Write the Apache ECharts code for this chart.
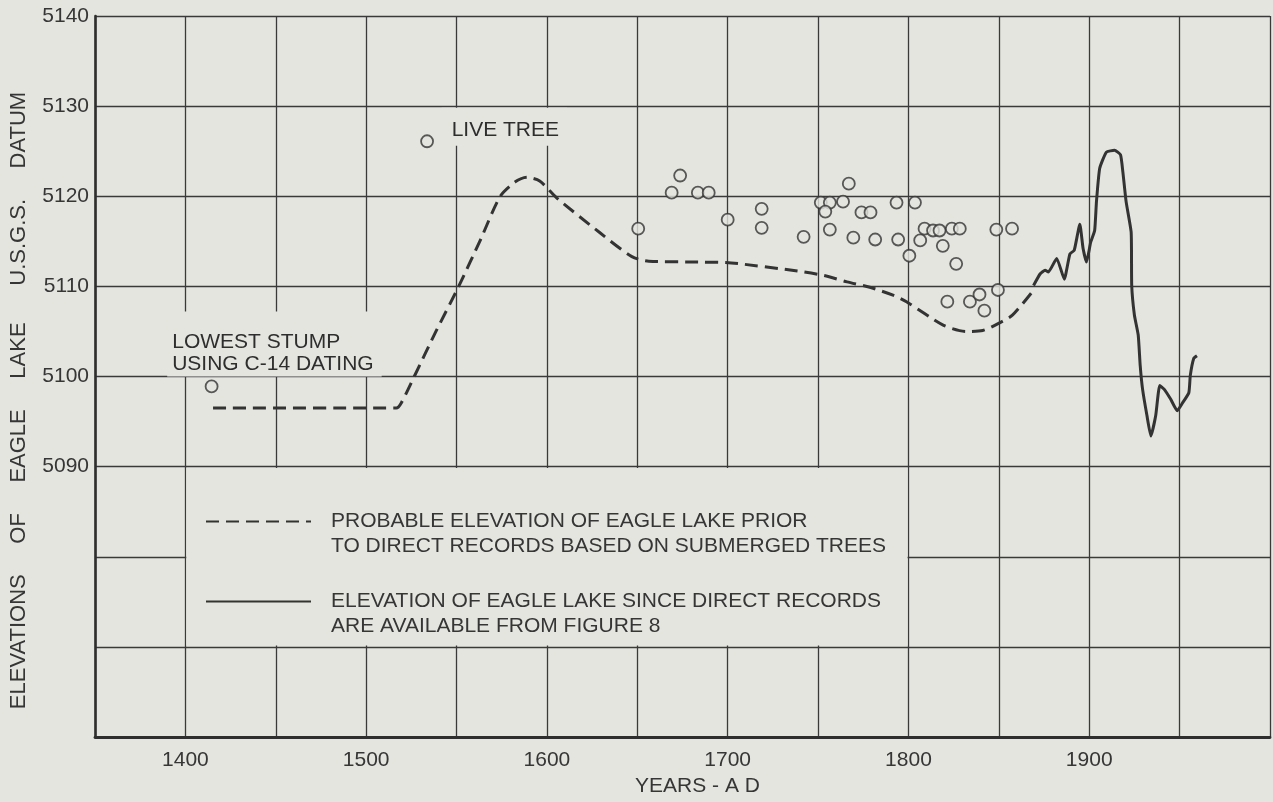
<!DOCTYPE html>
<html><head><meta charset="utf-8">
<script src="https://cdn.jsdelivr.net/npm/echarts@6/dist/echarts.min.js"></script>
<style>html,body{margin:0;padding:0;background:#e4e5df}#c{width:1273px;height:802px}</style>
</head><body><div id="c"></div>
<script>
// ---- data ----
const probYears = [1415.3, 1516.7, 1519.5, 1526.6, 1538.6, 1551.2, 1563.3, 1574.2, 1582.5, 1589, 1596, 1605.5, 1629, 1647, 1656.4, 1683.8, 1702, 1738.6, 1753.4, 1766, 1778.6, 1791.8, 1798.9, 1819.2, 1831.8, 1841.1, 1849.9, 1857.5, 1868.5];
const probElev  = [5096.5, 5096.5, 5097.1, 5100, 5105, 5110, 5115.2, 5120, 5121.6, 5122.1, 5121.7, 5119.8, 5116, 5113.3, 5112.8, 5112.7, 5112.6, 5111.7, 5111.2, 5110.5, 5109.9, 5109, 5108.3, 5105.7, 5105, 5105.1, 5105.9, 5106.8, 5109.4];

const recYears = [1869.2, 1872.9, 1875.6, 1877.4, 1882, 1886.2, 1889.3, 1891.7, 1894.8, 1896.6, 1898.5, 1900.8, 1903, 1904, 1905.8, 1909.5, 1914, 1917.3, 1918.6, 1920.4, 1923.2, 1923.5, 1925, 1927.1, 1928.2, 1929.5, 1931.9, 1934.1, 1936.8, 1939, 1941.4, 1945, 1948.7, 1951.4, 1955.1, 1955.9, 1957.8, 1959.6];
const recElev  = [5110.1, 5111.4, 5111.8, 5111.6, 5113.1, 5110.8, 5113.6, 5114, 5116.9, 5114.2, 5112.7, 5114.9, 5116.2, 5119.4, 5123.1, 5124.9, 5125.1, 5124.6, 5122.7, 5119.4, 5116, 5110.1, 5106.8, 5104.6, 5101.2, 5098.6, 5095.7, 5093.4, 5095.7, 5099, 5098.6, 5097.5, 5096.2, 5097, 5098.2, 5100.1, 5102, 5102.3];

const treeYears = [1650.5, 1669, 1673.7, 1683.5, 1689.5, 1700, 1718.8, 1718.8, 1742, 1751.5, 1756.5, 1754, 1756.5, 1763.8, 1767, 1769.5, 1774, 1779, 1781.6, 1793.4, 1803.6, 1794.3, 1800.5, 1806.5, 1808.9, 1813.6, 1817.2, 1824, 1828.4, 1819, 1826.4, 1848.6, 1857.3, 1821.5, 1834, 1839.3, 1842, 1849.5];
const treeElev  = [5116.4, 5120.4, 5122.3, 5120.4, 5120.4, 5117.4, 5118.6, 5116.5, 5115.5, 5119.3, 5119.3, 5118.3, 5116.3, 5119.4, 5121.4, 5115.4, 5118.2, 5118.2, 5115.2, 5119.3, 5119.3, 5115.2, 5113.4, 5115.1, 5116.4, 5116.2, 5116.2, 5116.4, 5116.4, 5114.5, 5112.5, 5116.3, 5116.4, 5108.3, 5108.3, 5109.1, 5107.3, 5109.6];

const stumpPoint = [1414.5, 5098.9];
const liveTreePoint = [1533.7, 5126.1];

const xTickLabels = [1400, 1500, 1600, 1700, 1800, 1900];
const yTickLabels = [5090, 5100, 5110, 5120, 5130, 5140];

const nameProb = 'PROBABLE ELEVATION OF EAGLE LAKE PRIOR\nTO DIRECT RECORDS BASED ON SUBMERGED TREES';
const nameRec  = 'ELEVATION OF EAGLE LAKE SINCE DIRECT RECORDS\nARE AVAILABLE FROM FIGURE 8';

// ---- chart ----
const BG = '#e4e5df', INK = '#363636', GRID = '#3a3a3a';
const FONT = '"Liberation Sans", Arial, sans-serif';
const txt = {fontFamily: FONT, color: INK, fontSize: 21};

const zip = (a, b) => a.map((v, i) => [v, b[i]]);

const scatterData = zip(treeYears, treeElev).map(p => ({value: p}));
scatterData.push({
  value: stumpPoint,
  label: Object.assign({}, txt, {show: true, formatter: 'LOWEST STUMP\nUSING C-14 DATING',
    position: [-37.5, -68], align: 'left', verticalAlign: 'top', color: '#2e2e2e', opacity: 1,
    backgroundColor: BG, padding: [20, 8, 1, 5], lineHeight: 22})
});
scatterData.push({
  value: liveTreePoint,
  label: Object.assign({}, txt, {show: true, formatter: 'LIVE TREE',
    position: [21.5, -26.5], align: 'left', verticalAlign: 'top', color: '#2e2e2e', opacity: 1,
    backgroundColor: BG, padding: [11, 8, 5, 10], lineHeight: 22})
});

const chart = echarts.init(document.getElementById('c'), null, {renderer: 'canvas'});
chart.setOption({
  backgroundColor: BG,
  animation: false,
  grid: {left: 91, right: 1, top: 16, bottom: 61, containLabel: false},
  xAxis: {
    type: 'value', min: 1350, max: 2000, interval: 50,
    axisLine: {show: true, onZero: false, lineStyle: {color: '#2e2e2e', width: 2.8}},
    axisTick: {show: false},
    splitLine: {show: true, lineStyle: {color: GRID, width: 1.3}},
    axisLabel: Object.assign({margin: 13, formatter: v => xTickLabels.includes(v) ? String(v) : ''}, txt),
    name: 'YEARS - A D', nameLocation: 'middle', nameGap: 39,
    nameTextStyle: Object.assign({padding: [0, 0, 0, 30]}, txt)
  },
  yAxis: {
    type: 'value', min: 5060, max: 5140, interval: 10,
    axisLine: {show: true, onZero: false, lineStyle: {color: '#2e2e2e', width: 2.6}},
    axisTick: {show: false},
    splitLine: {show: true, lineStyle: {color: GRID, width: 1.3}},
    axisLabel: Object.assign({margin: 6, formatter: v => yTickLabels.includes(v) ? String(v) : ''}, txt),
    name: 'ELEVATIONS     OF     EAGLE     LAKE      U.S.G.S.     DATUM', nameLocation: 'middle', nameGap: 65,
    nameTextStyle: Object.assign({padding: [0, 48, 0, 0]}, txt, {fontSize: 22})
  },
  legend: {
    data: [nameProb, nameRec], orient: 'vertical', left: 205, top: 484, padding: 0,
    itemGap: 5, itemWidth: 105, itemHeight: 14, selectedMode: false,
    itemStyle: {opacity: 0},
    formatter: n => '\n' + n,
    textStyle: Object.assign({lineHeight: 25, padding: [0, 0, 0, 15]}, txt)
  },
  series: [
    {
      name: nameProb, type: 'line', data: zip(probYears, probElev),
      symbol: 'none', smooth: 0.25,
      lineStyle: {color: '#333', width: 3, type: [13, 7]},
      emphasis: {disabled: true},
      markArea: {
        silent: true, label: {show: false},
        itemStyle: {color: BG},
        data: [[{xAxis: 1400.5, yAxis: 5089.85}, {xAxis: 1799.5, yAxis: 5070.15}]]
      }
    },
    {
      name: nameRec, type: 'line', data: zip(recYears, recElev),
      symbol: 'none', smooth: 0.15,
      lineStyle: {color: '#333', width: 3},
      emphasis: {disabled: true}
    },
    {
      name: 'trees', type: 'scatter', data: scatterData,
      symbol: 'circle', symbolSize: 12,
      itemStyle: {color: BG, borderColor: '#333', borderWidth: 1.8},
      emphasis: {disabled: true}
    }
  ]
});
</script></body></html>
